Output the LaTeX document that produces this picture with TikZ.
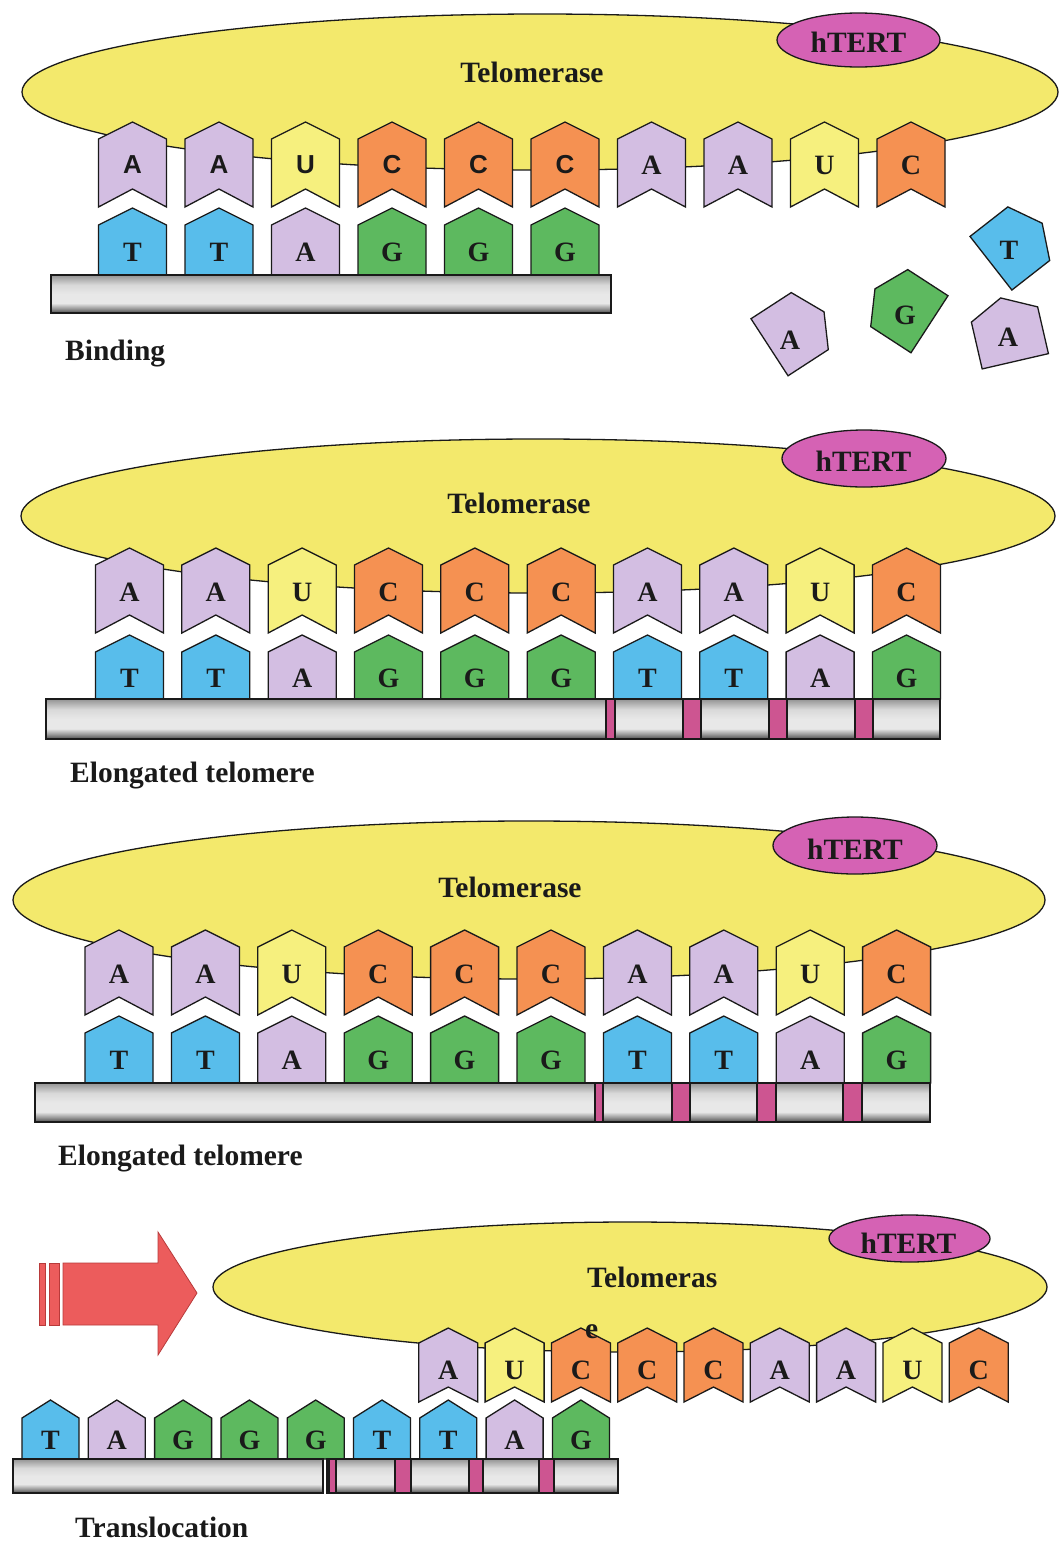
\documentclass[tikz,border=0pt]{standalone}
\usepackage{fontspec}
\setmainfont{Liberation Serif}
\newfontfamily\sansletters{Liberation Sans}

\definecolor{enzyme}{HTML}{F3E96C}
\definecolor{tert}{HTML}{D562B4}
\definecolor{nA}{HTML}{D3BEE2}
\definecolor{nT}{HTML}{58BDEB}
\definecolor{nU}{HTML}{F6F07E}
\definecolor{nC}{HTML}{F59152}
\definecolor{nG}{HTML}{5DB95F}
\definecolor{repeatmark}{HTML}{CD5591}
\definecolor{arrowred}{HTML}{EC5C5C}
\definecolor{arrowedge}{HTML}{B83A3A}
\definecolor{ink}{HTML}{1A1A1A}
\definecolor{barD}{gray}{0.30}
\definecolor{barM}{gray}{0.60}
\definecolor{barL}{gray}{0.91}
\definecolor{barL2}{gray}{0.85}
\definecolor{barT}{gray}{0.58}

% chromosome end: dark rim, light band below the middle
\pgfdeclareverticalshading{cylinder}{100bp}{color(0bp)=(barD); color(25bp)=(barD); color(31bp)=(barM); color(38bp)=(barL); color(50bp)=(barL); color(62bp)=(barL2); color(75bp)=(barT); color(100bp)=(barT)}

\newcommand\labelfont{\fontsize{29.5}{32}\selectfont\bfseries}
\newcommand\letterfont{\fontsize{28}{30}\selectfont\bfseries}
\newcommand\sansletterfont{\sansletters\fontsize{26}{28}\selectfont\bfseries}

% RNA template unit (chevron): [letter style] centre x, tip y, letter, name
\newcommand\tmpl[5][]{%
  \draw[outline, fill=n#4] (#2,#3) -- (#2+\hw,#3+\sh) -- (#2+\hw,#3+\bt) -- (#2,#3+\nt)
     -- (#2-\hw,#3+\bt) -- (#2-\hw,#3+\sh) -- cycle;
  \node[nucl, #1] (#5) at (#2,#3+\lo) {#4};}

% DNA base (house): centre x, tip y, foot y, letter, name
\newcommand\dna[5]{%
  \draw[outline, fill=n#4] (#1,#2) -- (#1+\hw,#2+\sh) -- (#1+\hw,#3) -- (#1-\hw,#3)
     -- (#1-\hw,#2+\sh) -- cycle;
  \node[nucl] (#5) at (#1,#2+\lo) {#4};}

% free nucleotide: centre x, centre y, turn, letter, name, letter x, letter y
\newcommand\freebase[7]{%
  \draw[outline, fill=n#4, shift={(#1,#2)}, rotate=#3]
     (0,-37) -- (34,-20) -- (34,28) -- (-34,28) -- (-34,-20) -- cycle;
  \node[nucl] (#5) at (#6,#7) {#4};}

\begin{document}
\begin{tikzpicture}[x=1pt, y=-1pt,
  outline/.style={draw=ink, line width=1.3pt, line join=miter},
  nucl/.style={inner sep=0pt, font=\letterfont, text=ink},
  bar/.style={outline, shading=cylinder},
  repeatband/.style={outline, fill=repeatmark},
  enzymebody/.style={outline, fill=enzyme},
  tertbody/.style={outline, fill=tert},
  title/.style={inner sep=0pt, font=\labelfont, text=ink, anchor=base},
  steplabel/.style={inner sep=0pt, font=\labelfont, text=ink, anchor=base west}]

\useasboundingbox (0,0) rectangle (1059,1545);
\fill[white] (0,0) rectangle (1059,1545);

% ---------------- Binding ----------------
\draw[enzymebody] (540,92) ellipse [x radius=518, y radius=78];
\draw[tertbody] (858.5,40) ellipse [x radius=81.5, y radius=27];
\node[title] (tert1) at (858.5,52) {hTERT};
\node[title] (enz1) at (532,82) {Telomerase};

\def\hw{34}\def\sh{17}\def\bt{85}\def\nt{67}\def\lo{43}
\foreach \L [count=\k from 0] in {A,A,U,C,C,C} {
  \pgfmathsetmacro\xx{132.5+86.5*\k}
  \tmpl[font=\sansletterfont]{\xx}{122}{\L}{p1r\k}}
\foreach \L [count=\k from 6] in {A,A,U,C} {
  \pgfmathsetmacro\xx{132.5+86.5*\k}
  \tmpl{\xx}{122}{\L}{p1r\k}}

\def\lo{44}
\foreach \L [count=\k from 0] in {T,T,A,G,G,G} {
  \pgfmathsetmacro\xx{132.5+86.5*\k}
  \dna{\xx}{208}{275}{\L}{p1d\k}}
\path[bar] (51,275) rectangle (611,313);

\freebase{793}{332}{-57}{A}{free1}{790}{340}
\freebase{906}{309}{57}{G}{free2}{905}{315}
\freebase{1013}{246}{-52}{T}{free3}{1009}{250}
\freebase{1009}{334}{13}{A}{free4}{1008}{337}

\node[steplabel] (lab1) at (65,360) {Binding};

% ---------------- Elongated telomere (1) ----------------
\draw[enzymebody] (538,516) ellipse [x radius=517, y radius=77];
\draw[tertbody] (864,458.5) ellipse [x radius=82, y radius=28.5];
\node[title] (tert2) at (863.5,471) {hTERT};
\node[title] (enz2) at (519,513) {Telomerase};

\def\lo{44}
\foreach \L [count=\k from 0] in {A,A,U,C,C,C,A,A,U,C} {
  \pgfmathsetmacro\xx{129.5+86.33*\k}
  \tmpl{\xx}{548}{\L}{p2r\k}}
\def\lo{43}
\foreach \L [count=\k from 0] in {T,T,A,G,G,G,T,T,A,G} {
  \pgfmathsetmacro\xx{129.5+86.33*\k}
  \dna{\xx}{635}{699}{\L}{p2d\k}}
\path[bar] (46,699) rectangle (940,739);
\foreach \a/\b in {606/615, 683/701, 769/787, 855/873}
  \path[repeatband] (\a,699) rectangle (\b,739);

\node[steplabel] (lab2) at (70,782) {Elongated telomere};

% ---------------- Elongated telomere (2) ----------------
\draw[enzymebody] (529,900) ellipse [x radius=516, y radius=79];
\draw[tertbody] (855,845.5) ellipse [x radius=82, y radius=28.5];
\node[title] (tert3) at (855,859) {hTERT};
\node[title] (enz3) at (510,897) {Telomerase};

\def\lo{44}
\foreach \L [count=\k from 0] in {A,A,U,C,C,C,A,A,U,C} {
  \pgfmathsetmacro\xx{119+86.4*\k}
  \tmpl{\xx}{930}{\L}{p3r\k}}
\def\lo{44}
\foreach \L [count=\k from 0] in {T,T,A,G,G,G,T,T,A,G} {
  \pgfmathsetmacro\xx{119+86.4*\k}
  \dna{\xx}{1016}{1083}{\L}{p3d\k}}
\path[bar] (35,1083) rectangle (930,1122);
\foreach \a/\b in {595/603, 672/690, 757/776, 843/862}
  \path[repeatband] (\a,1083) rectangle (\b,1122);

\node[steplabel] (lab3) at (58,1165) {Elongated telomere};

% ---------------- Translocation ----------------
\path[fill=arrowred, draw=arrowedge, line width=0.8pt] (39,1263) rectangle (45,1325);
\path[fill=arrowred, draw=arrowedge, line width=0.8pt] (49,1263) rectangle (59,1325);
\draw[fill=arrowred, draw=arrowedge, line width=0.8pt, line join=miter]
  (63,1263) -- (158,1263) -- (158,1232) -- (197,1293) -- (158,1355) -- (158,1325) -- (63,1325) -- cycle;

\draw[enzymebody] (630,1287) ellipse [x radius=417, y radius=65];
\draw[tertbody] (909.5,1238.5) ellipse [x radius=80.5, y radius=23.5];
\node[title] (tert4) at (908.5,1253) {hTERT};
\node[steplabel] (enz4) at (587,1287) {Telomeras};

\def\hw{29.5}\def\sh{15}\def\bt{74}\def\nt{59}\def\lo{42}
\foreach \L [count=\k from 0] in {A,U,C,C,C,A,A,U,C} {
  \pgfmathsetmacro\xx{448.3+66.3*\k}
  \tmpl{\xx}{1328}{\L}{p4r\k}}
\def\hw{28.5}\def\sh{18}\def\lo{40}
\foreach \L [count=\k from 0] in {T,A,G,G,G,T,T,A,G} {
  \pgfmathsetmacro\xx{50.5+66.3*\k}
  \dna{\xx}{1400}{1459}{\L}{p4d\k}}
\path[bar] (13,1459) rectangle (323,1493);
\path[bar] (327,1459) rectangle (618,1493);
\foreach \a/\b in {329/336, 395/411, 469/483, 539/554}
  \path[repeatband] (\a,1459) rectangle (\b,1493);

\node[steplabel] (enz4e) at (585,1338) {e};
\node[steplabel] (lab4) at (75,1537) {Translocation};
\end{tikzpicture}
\end{document}
